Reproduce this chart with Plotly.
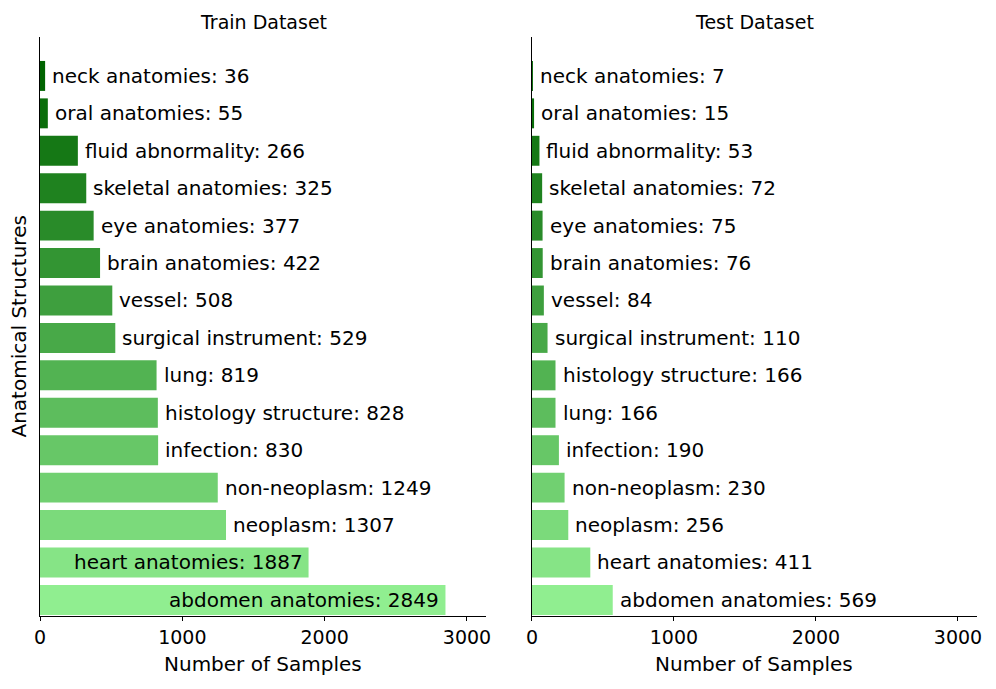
import plotly.graph_objects as go
from plotly.subplots import make_subplots

train_categories = ["neck anatomies", "oral anatomies", "fluid abnormality", "skeletal anatomies",
                    "eye anatomies", "brain anatomies", "vessel", "surgical instrument", "lung",
                    "histology structure", "infection", "non-neoplasm", "neoplasm",
                    "heart anatomies", "abdomen anatomies"]
train_values = [36, 55, 266, 325, 377, 422, 508, 529, 819, 828, 830, 1249, 1307, 1887, 2849]

test_categories = ["neck anatomies", "oral anatomies", "fluid abnormality", "skeletal anatomies",
                   "eye anatomies", "brain anatomies", "vessel", "surgical instrument",
                   "histology structure", "lung", "infection", "non-neoplasm", "neoplasm",
                   "heart anatomies", "abdomen anatomies"]
test_values = [7, 15, 53, 72, 75, 76, 84, 110, 166, 166, 190, 230, 256, 411, 569]

tick_vals = [0, 1000, 2000, 3000]

FONT = "DejaVu Sans"
TEXT_SIZE = 20
x_max = max(train_values) * 1.1

fig = make_subplots(rows=1, cols=2, horizontal_spacing=0.05)


def color_for(i, n):
    a = (0, 100, 0)
    b = (144, 238, 144)
    t = i / (n - 1)
    return "rgb(%d,%d,%d)" % tuple(round(a[k] + (b[k] - a[k]) * t) for k in range(3))


for col, (cats, vals) in enumerate([(train_categories, train_values), (test_categories, test_values)], start=1):
    n = len(vals)
    ypos = list(range(n - 1, -1, -1))
    colors = [color_for(i, n) for i in range(n)]
    fig.add_trace(go.Bar(x=vals, y=ypos, orientation="h", width=0.8,
                         marker=dict(color=colors, line=dict(width=0)),
                         showlegend=False, hoverinfo="x"), row=1, col=col)
    xref = "x" if col == 1 else "x2"
    yref = "y" if col == 1 else "y2"
    for c, v, y in zip(cats, vals, ypos):
        inside = v > 1500
        fig.add_annotation(x=v, y=y, xref=xref, yref=yref, text=f"{c}: {v}", showarrow=False,
                           xanchor="right" if inside else "left",
                           xshift=-4 if inside else 5,
                           font=dict(family=FONT, size=TEXT_SIZE, color="black"))

axis_common = dict(range=[0, x_max], tickvals=tick_vals, ticks="outside", ticklen=4,
                   tickcolor="black", showline=True, linecolor="black", linewidth=1,
                   showgrid=False, zeroline=False, automargin=False,
                   tickfont=dict(family=FONT, size=TEXT_SIZE - 1, color="black"))
fig.update_xaxes(**axis_common)
yaxis_common = dict(range=[-0.43, 15.04], showticklabels=False, ticks="", showline=True,
                    linecolor="black", linewidth=1, showgrid=False, zeroline=False, automargin=False)
fig.update_yaxes(**yaxis_common)

D1 = [0, 0.476]
D2 = [0.525, 1.0]
fig.update_layout(
    width=988, height=681,
    margin=dict(l=32, r=19, t=29, b=73),
    plot_bgcolor="white", paper_bgcolor="white",
    xaxis=dict(domain=D1),
    xaxis2=dict(domain=D2),
)
for (x0, x1), title in [(D1, "Train Dataset"), (D2, "Test Dataset")]:
    fig.add_annotation(x=(x0 + x1) / 2, y=1, xref="paper", yref="paper", yshift=3,
                       text=title, showarrow=False, xanchor="center", yanchor="bottom",
                       borderpad=0,
                       font=dict(family=FONT, size=TEXT_SIZE - 1, color="black"))
    fig.add_annotation(x=(x0 + x1) / 2, y=0, xref="paper", yref="paper", yshift=-34,
                       text="Number of Samples", showarrow=False, xanchor="center", yanchor="top",
                       font=dict(family=FONT, size=TEXT_SIZE, color="black"))
fig.add_annotation(x=0, y=0.5, xref="paper", yref="paper", xshift=-22, textangle=-90,
                   text="Anatomical Structures", showarrow=False, xanchor="center", yanchor="middle",
                   font=dict(family=FONT, size=TEXT_SIZE, color="black"))

fig.write_html("out.html")
